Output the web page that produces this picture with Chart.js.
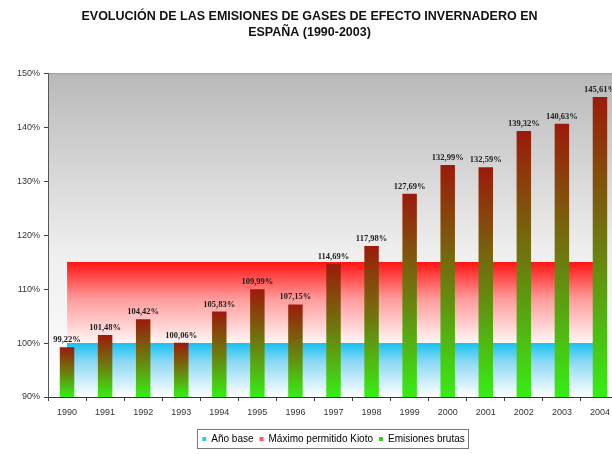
<!DOCTYPE html>
<html>
<head>
<meta charset="utf-8">
<script src="https://cdn.jsdelivr.net/npm/chart.js@4/dist/chart.umd.min.js"></script>
<style>
  html, body { margin: 0; padding: 0; background: #fff; overflow: hidden; }
  #wrap { position: relative; width: 620px; height: 454px; }
</style>
</head>
<body>
<div id="wrap"><canvas id="emisionesChart"></canvas></div>
<script>
const years = ['1990', '1991', '1992', '1993', '1994', '1995', '1996', '1997',
               '1998', '1999', '2000', '2001', '2002', '2003', '2004'];

// % sobre el año base
const emisionesBrutas = [99.22, 101.48, 104.42, 100.06, 105.83, 109.99, 107.15, 114.69,
                         117.98, 127.69, 132.99, 132.59, 139.32, 140.63, 145.61];
const anoBase = [100, 100, 100, 100, 100, 100, 100, 100, 100, 100, 100, 100, 100, 100, 100];
const maximoKioto = [115, 115, 115, 115, 115, 115, 115, 115, 115, 115, 115, 115, 115, 115, 115];

const yTicks = [90, 100, 110, 120, 130, 140, 150];
const legendColors = ['#2fc8ee', '#ff5a5a', '#33d11c'];

const fmt = v => v.toFixed(2).replace('.', ',') + '%';

// vertical gradient between two values of the y scale
function bandGradient(chart, from, to, stops) {
  const y = chart.scales.y;
  const g = chart.ctx.createLinearGradient(0, y.getPixelForValue(from), 0, y.getPixelForValue(to));
  stops.forEach(([p, c]) => g.addColorStop(p, c));
  return g;
}

const plotBackground = {
  id: 'plotBackground',
  beforeDraw(chart) {
    const { ctx, chartArea: a } = chart;
    const g = ctx.createLinearGradient(0, a.top, 0, a.bottom);
    g.addColorStop(0, '#b9b9b9');
    g.addColorStop(0.55, '#eeeeee');
    g.addColorStop(1, '#ffffff');
    ctx.save();
    ctx.fillStyle = g;
    ctx.fillRect(a.left, a.top, a.right - a.left, a.bottom - a.top);
    ctx.strokeStyle = '#9a9a9a';
    ctx.beginPath();
    ctx.moveTo(a.left, a.top + 0.5);
    ctx.lineTo(a.right, a.top + 0.5);
    ctx.stroke();
    ctx.restore();
  }
};

const barLabels = {
  id: 'barLabels',
  afterDatasetsDraw(chart) {
    const ctx = chart.ctx;
    const meta = chart.getDatasetMeta(2);
    ctx.save();
    ctx.font = "bold 8.5px 'Liberation Serif', 'Times New Roman', serif";
    ctx.fillStyle = '#1c1c1c';
    ctx.textAlign = 'center';
    ctx.textBaseline = 'bottom';
    meta.data.forEach((bar, i) => {
      ctx.fillText(fmt(emisionesBrutas[i]), bar.x, bar.y - 3);
    });
    ctx.restore();
  }
};

const legendFrame = {
  id: 'legendFrame',
  afterDraw(chart) {
    const boxes = chart.legend.legendHitBoxes;
    if (!boxes || !boxes.length) return;
    const left = Math.min(...boxes.map(b => b.left)) - 5;
    const right = Math.max(...boxes.map(b => b.left + b.width)) + 4;
    const top = Math.min(...boxes.map(b => b.top)) - 5;
    const bottom = Math.max(...boxes.map(b => b.top + b.height)) + 4;
    const ctx = chart.ctx;
    ctx.save();
    ctx.strokeStyle = '#777';
    ctx.lineWidth = 1;
    ctx.strokeRect(Math.round(left) + 0.5, Math.round(top) + 0.5, Math.round(right - left), Math.round(bottom - top));
    ctx.restore();
  }
};

new Chart(document.getElementById('emisionesChart'), {
  data: {
    labels: years,
    datasets: [
      {
        type: 'line',
        label: 'Año base',
        data: anoBase,
        order: 3,
        fill: 'start',
        borderWidth: 0,
        pointRadius: 0,
        backgroundColor: ctx => {
          if (!ctx.chart.chartArea) return 'rgba(0,0,0,0)';
          return bandGradient(ctx.chart, 100, 90, [[0, '#16c2f2'], [0.35, '#8cd8f4'], [1, '#ffffff']]);
        }
      },
      {
        type: 'line',
        label: 'Máximo permitido Kioto',
        data: maximoKioto,
        order: 2,
        fill: { value: 100 },
        borderWidth: 0,
        pointRadius: 0,
        backgroundColor: ctx => {
          if (!ctx.chart.chartArea) return 'rgba(0,0,0,0)';
          return bandGradient(ctx.chart, 115, 100, [[0, '#ff1414'], [0.45, '#ff9a9a'], [1, '#fff6f6']]);
        }
      },
      {
        type: 'bar',
        label: 'Emisiones brutas',
        data: emisionesBrutas,
        order: 1,
        barPercentage: 0.38,
        categoryPercentage: 1,
        backgroundColor: ctx => {
          const chart = ctx.chart;
          if (!chart.chartArea || ctx.raw === undefined) return '#5a8a10';
          const y = chart.scales.y;
          const g = chart.ctx.createLinearGradient(0, y.getPixelForValue(ctx.raw), 0, chart.chartArea.bottom);
          g.addColorStop(0, '#9c1a0a');
          g.addColorStop(0.5, '#6c7c0e');
          g.addColorStop(1, '#36ee16');
          return g;
        }
      }
    ]
  },
  options: {
    responsive: true,
    maintainAspectRatio: false,
    animation: false,
    layout: { padding: { left: 0, right: 1, top: 0, bottom: 0 } },
    scales: {
      x: {
        offset: true,
        afterFit: scale => { scale.height = 31; },
        grid: { offset: true, drawOnChartArea: false, tickLength: 4, color: '#444' },
        border: { color: '#333', width: 1 },
        ticks: {
          padding: 6,
          color: '#333',
          font: { family: "'Liberation Sans', Arial, sans-serif", size: 9 }
        }
      },
      y: {
        min: 90,
        max: 150,
        afterFit: scale => { scale.width = 48; },
        afterBuildTicks: scale => { scale.ticks = yTicks.map(v => ({ value: v })); },
        grid: { drawOnChartArea: false, tickLength: 4, color: '#444' },
        border: { color: '#555', width: 1 },
        ticks: {
          padding: 4,
          color: '#333',
          font: { family: "'Liberation Sans', Arial, sans-serif", size: 9 },
          callback: v => v + '%'
        }
      }
    },
    plugins: {
      title: {
        display: true,
        text: ['EVOLUCIÓN DE LAS EMISIONES DE GASES DE EFECTO INVERNADERO EN', 'ESPAÑA (1990-2003)'],
        color: '#111',
        font: { family: "'Liberation Sans', Arial, sans-serif", size: 12.5, weight: 'bold', lineHeight: 1.25 },
        padding: { top: 9, bottom: 33 }
      },
      legend: {
        position: 'bottom',
        fullSize: false,
        labels: {
          boxWidth: 4,
          boxHeight: 4,
          padding: 6,
          color: '#555',
          font: { family: "'Liberation Sans', Arial, sans-serif", size: 10 },
          generateLabels: chart => chart.data.datasets.map((ds, i) => ({
            text: ds.label,
            fillStyle: legendColors[i],
            strokeStyle: legendColors[i],
            lineWidth: 0,
            hidden: false,
            datasetIndex: i
          }))
        }
      },
      tooltip: { enabled: false }
    }
  },
  plugins: [plotBackground, barLabels, legendFrame]
});
</script>
</body>
</html>
